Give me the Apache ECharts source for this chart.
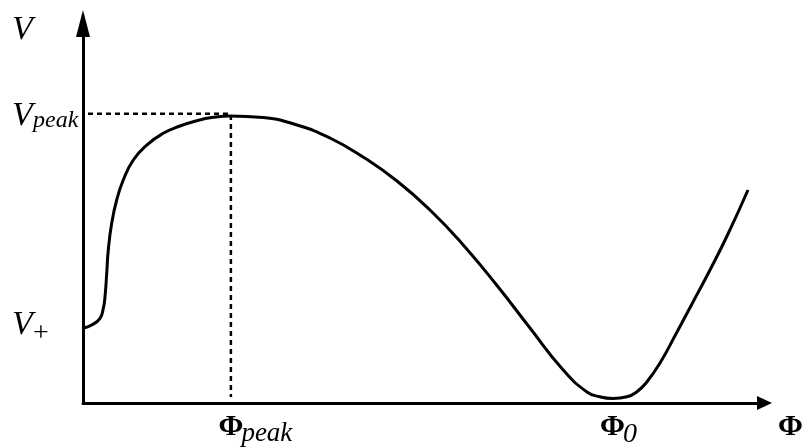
<!DOCTYPE html>
<html>
<head>
<meta charset="utf-8">
<script src="https://cdn.jsdelivr.net/npm/echarts@6/dist/echarts.min.js"></script>
<style>
html,body{margin:0;padding:0;background:#fff;}
#chart{width:806px;height:448px;}
</style>
</head>
<body>
<div id="chart"></div>
<script>
// Curve samples (Φ, V) in arbitrary units
const phiValues = [0.04, 1.28, 2.49, 2.98, 3.23, 3.48, 3.71, 4.21, 4.94, 5.91, 7.38, 9.35, 11.78, 14.23, 16.68, 19.12, 21.57,
  26.41, 31.40, 36.24, 41.09, 46.07, 50.92, 55.76, 60.75, 65.59, 70.43, 73.95, 75.86, 77.77,
  79.82, 81.29, 82.76, 84.67, 87.16, 89.51, 92.00, 94.50, 97.58];
const vValues = [19.68, 20.55, 22.32, 24.95, 28.01, 34.18, 40.32, 47.35, 53.49, 58.76, 64.03, 67.98, 71.07, 72.99, 74.39, 75.28, 75.63,
  75.23, 73.25, 69.83, 64.82, 58.50, 50.86, 41.71, 30.96, 19.76, 8.77, 2.90, 1.63, 1.19,
  1.63, 2.98, 5.61, 10.54, 18.71, 26.61, 35.05, 44.01, 56.13];

// Key values
const phiPeak = 21.7;
const phi0 = 77.7;
const vPeak = 76.2;
const vPlus = 19.68;
const guideStartPhi = 0.73;
const guideEndV = 1.6;

// Label texts
const axisNameV = 'V';
const axisNamePhi = 'Φ';
const yTickLabels = [{ main: 'V', sub: 'peak', value: vPeak }, { main: 'V', sub: '+', value: vPlus }];
const xTickLabels = [{ main: 'Φ', sub: 'peak', value: phiPeak }, { main: 'Φ', sub: '0', value: phi0 }];

const curve = phiValues.map((p, i) => [p, vValues[i]]);
const guide = [[guideStartPhi, vPeak], [phiPeak, vPeak], [phiPeak, guideEndV]];

const chart = echarts.init(document.getElementById('chart'), null, { renderer: 'canvas' });
const SERIF = '"Liberation Serif", "Times New Roman", serif';
const PHIFONT = 'bold 30px "Liberation Serif", serif';

chart.setOption({
  animation: false,
  backgroundColor: '#fff',
  grid: { left: 83, right: 41.5, top: 23.5, bottom: 45 },
  xAxis: {
    type: 'value', min: 0, max: 100,
    axisLine: { lineStyle: { color: '#000', width: 3 }, symbol: ['none', 'triangle'], symbolSize: [14, 15] },
    axisTick: { show: false }, axisLabel: { show: false }, splitLine: { show: false }
  },
  yAxis: {
    type: 'value', min: 0, max: 100,
    axisLine: { lineStyle: { color: '#000', width: 3 }, symbol: ['none', 'triangle'], symbolSize: [14, 27] },
    axisTick: { show: false }, axisLabel: { show: false }, splitLine: { show: false }
  },
  series: [
    {
      type: 'line', data: guide, symbol: 'none', silent: true,
      lineStyle: { color: '#000', width: 2.5, type: [5, 4] }
    },
    {
      type: 'line', data: curve, symbol: 'none', smooth: 0.5,
      lineStyle: { color: '#000', width: 3 }
    }
  ]
});

const px = (x, y) => chart.convertToPixel({ gridIndex: 0 }, [x, y]);
const origin = px(0, 0);
const topEnd = px(0, 100);
const rightEnd = px(100, 0);

const g = [];
function txt(text, x, y, font, align) {
  g.push({ type: 'text', silent: true, style: { text, x, y, font, fill: '#000', align: align || 'left', verticalAlign: 'middle' } });
}
// axis names
txt(axisNameV, origin[0] - 71, topEnd[1] + 6.5, 'italic 34px ' + SERIF);
txt(axisNamePhi, rightEnd[0] + 13.5, origin[1] + 24.5, PHIFONT);

// y labels
yTickLabels.forEach((l) => {
  const p = px(0, l.value);
  const isPlus = l.sub === '+';
  txt(l.main, origin[0] - 71, p[1] + (isPlus ? -3 : 2.5), 'italic 34px ' + SERIF);
  txt(l.sub, origin[0] - 50, p[1] + (isPlus ? 5 : 6.5), (isPlus ? '28px ' : 'italic 24px ') + SERIF);
});
// x labels
xTickLabels.forEach((l) => {
  const p = px(l.value, 0);
  txt(l.main, p[0], origin[1] + 24.5, PHIFONT, 'center');
  txt(l.sub, p[0] + 10.5, origin[1] + (l.sub === '0' ? 32 : 30.5), 'italic ' + (l.sub === '0' ? 28 : 27) + 'px ' + SERIF);
});
chart.setOption({ graphic: g });
</script>
</body>
</html>
